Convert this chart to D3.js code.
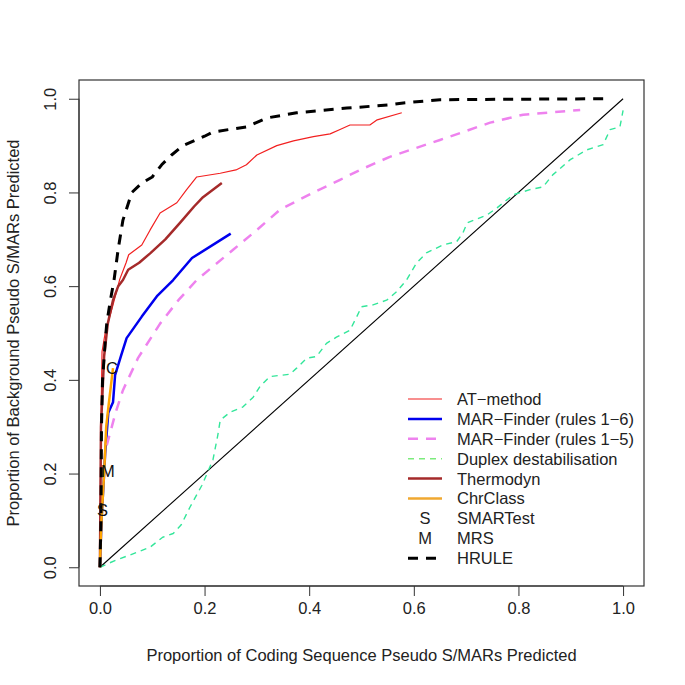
<!DOCTYPE html>
<html><head><meta charset="utf-8">
<script src="https://cdn.jsdelivr.net/npm/d3@7"></script>
<style>body{margin:0;background:#fff}svg{display:block}text{font-family:"Liberation Sans",Arial,Helvetica,sans-serif}</style>
</head><body>
<script>
// ---- data (x = proportion coding predicted, y = proportion background predicted)
const atMethod = [[0,0],[0.002,0.3],[0.004,0.46],[0.01,0.5],[0.015,0.52],[0.025,0.56],[0.032,0.59],[0.038,0.615],[0.05,0.65],[0.055,0.667],[0.08,0.688],[0.096,0.72],[0.115,0.756],[0.147,0.778],[0.165,0.805],[0.185,0.833],[0.23,0.841],[0.26,0.848],[0.28,0.859],[0.3,0.88],[0.338,0.9],[0.37,0.91],[0.408,0.919],[0.44,0.925],[0.46,0.935],[0.478,0.944],[0.516,0.944],[0.53,0.955],[0.577,0.97]];
const marFinder16 = [[0,0],[0.003,0.1],[0.008,0.2],[0.01,0.243],[0.016,0.33],[0.025,0.352],[0.029,0.41],[0.04,0.45],[0.051,0.489],[0.08,0.535],[0.11,0.58],[0.14,0.613],[0.176,0.66],[0.25,0.712]];
const marFinder15 = [[0.013,0.26],[0.03,0.33],[0.044,0.378],[0.073,0.447],[0.115,0.52],[0.15,0.57],[0.185,0.613],[0.254,0.677],[0.3,0.72],[0.344,0.763],[0.408,0.8],[0.459,0.827],[0.497,0.848],[0.554,0.876],[0.65,0.912],[0.746,0.949],[0.809,0.966],[0.918,0.976]];
const duplex = [[0,0],[0.03,0.015],[0.057,0.026],[0.096,0.043],[0.12,0.064],[0.14,0.072],[0.155,0.09],[0.172,0.128],[0.195,0.175],[0.216,0.229],[0.225,0.28],[0.23,0.314],[0.249,0.331],[0.273,0.342],[0.293,0.363],[0.306,0.386],[0.325,0.407],[0.363,0.412],[0.376,0.425],[0.395,0.446],[0.414,0.45],[0.433,0.478],[0.452,0.491],[0.478,0.506],[0.491,0.535],[0.5,0.556],[0.522,0.56],[0.548,0.57],[0.567,0.588],[0.586,0.613],[0.605,0.649],[0.624,0.671],[0.656,0.688],[0.682,0.695],[0.694,0.714],[0.702,0.735],[0.74,0.752],[0.759,0.767],[0.79,0.795],[0.822,0.806],[0.847,0.812],[0.866,0.838],[0.899,0.87],[0.931,0.891],[0.962,0.902],[0.975,0.934],[0.994,0.94],[1.0,0.975]];
const thermodyn = [[0,0],[0.002,0.3],[0.008,0.45],[0.015,0.52],[0.025,0.57],[0.035,0.6],[0.044,0.613],[0.054,0.635],[0.075,0.65],[0.096,0.67],[0.125,0.7],[0.153,0.735],[0.18,0.77],[0.197,0.79],[0.233,0.82]];
const chrClass = [[0,0],[0.003,0.1],[0.008,0.2],[0.012,0.3],[0.017,0.35],[0.025,0.425]];
const hrule = [[0,0],[0.002,0.1],[0.003,0.3],[0.005,0.4],[0.01,0.48],[0.013,0.52],[0.02,0.57],[0.027,0.613],[0.035,0.68],[0.044,0.741],[0.061,0.8],[0.08,0.82],[0.1,0.833],[0.118,0.859],[0.137,0.88],[0.159,0.9],[0.2,0.92],[0.216,0.929],[0.28,0.94],[0.319,0.959],[0.376,0.97],[0.472,0.98],[0.554,0.987],[0.58,0.991],[0.65,0.998],[0.965,1.0]];
const diagonal = [[0,0],[1,1]];
const pointMarks = [{label:"S", x:0.005, y:0.122},{label:"M", x:0.015, y:0.205},{label:"C", x:0.023, y:0.425}];
const xTicks = [0,0.2,0.4,0.6,0.8,1.0];
const yTicks = [0,0.2,0.4,0.6,0.8,1.0];
const legendLabels = ["AT\u2212method","MAR\u2212Finder (rules 1\u22126)","MAR\u2212Finder (rules 1\u22125)","Duplex destabilisation","Thermodyn","ChrClass","SMARTest","MRS","HRULE"];

// ---- styles
const series = [
  {data: atMethod, color:"#F22020", width:1.2, dash:null},
  {data: marFinder16, color:"#0000EE", width:2.5, dash:null},
  {data: marFinder15, color:"#EE82EE", width:2.5, dash:"10,8"},
  {data: duplex, color:"#33E69A", width:1.4, dash:"6,5"},
  {data: thermodyn, color:"#A52A2A", width:2.5, dash:null},
  {data: chrClass, color:"#FFA500", width:2.5, dash:null},
  {data: hrule, color:"#000000", width:3, dash:"10,8"}
];
const legendStyles = [
  {color:"#F22020", width:1.2, dash:null},
  {color:"#0000EE", width:2.5, dash:null},
  {color:"#EE82EE", width:2.5, dash:"10,8"},
  {color:"#7CEB7C", width:1.4, dash:"6,5"},
  {color:"#A52A2A", width:2.5, dash:null},
  {color:"#F0A830", width:2.5, dash:null},
  {text:"S"},{text:"M"},
  {color:"#000000", width:3, dash:"10,8"}
];

const W=685,H=685;
const box={left:79,right:644,top:80,bottom:586};
const x=d3.scaleLinear().domain([-0.04,1.04]).range([box.left,box.right]);
const y=d3.scaleLinear().domain([-0.04,1.04]).range([box.bottom,box.top]);
const svg=d3.select("body").append("svg").attr("width",W).attr("height",H);
const fs=16.5;

const line=d3.line().x(d=>x(d[0])).y(d=>y(d[1]));
const g=svg.append("g");
g.append("path").datum(diagonal).attr("d",line).attr("fill","none").attr("stroke","#000").attr("stroke-width",1.1);
series.forEach(s=>{
  g.append("path").datum(s.data).attr("d",line).attr("fill","none")
   .attr("stroke",s.color).attr("stroke-width",s.width)
   .attr("stroke-dasharray",s.dash).attr("stroke-linejoin","round");
});
g.selectAll("text.pm").data(pointMarks).enter().append("text")
  .attr("x",d=>x(d.x)).attr("y",d=>y(d.y)).attr("dy","0.36em")
  .attr("text-anchor","middle").attr("font-size",fs).attr("fill","#111").text(d=>d.label);

// box
svg.append("rect").attr("x",box.left).attr("y",box.top).attr("width",box.right-box.left).attr("height",box.bottom-box.top)
  .attr("fill","none").attr("stroke","#333").attr("stroke-width",1.2);

// axes
const xAxis=d3.axisBottom(x).tickValues(xTicks).tickFormat(d3.format(".1f")).tickSize(10).tickPadding(6);
const ax=svg.append("g").attr("transform",`translate(0,${box.bottom})`).call(xAxis);
ax.select(".domain").attr("d",`M${x(0)},0H${x(1)}`).attr("stroke","#333");
ax.selectAll("text").attr("font-size",fs).attr("font-family","Liberation Sans, Arial").attr("fill","#222");
ax.selectAll("line").attr("stroke","#333");

const yAxis=d3.axisLeft(y).tickValues(yTicks).tickFormat(d3.format(".1f")).tickSize(10).tickPadding(6);
const ay=svg.append("g").attr("transform",`translate(${box.left},0)`).call(yAxis);
ay.select(".domain").attr("d",`M0,${y(0)}V${y(1)}`).attr("stroke","#333");
ay.selectAll("line").attr("stroke","#333");
ay.selectAll("text").attr("font-size",fs).attr("font-family","Liberation Sans, Arial").attr("fill","#222")
  .attr("x",0).attr("y",0).attr("dy","0").attr("text-anchor","middle")
  .attr("transform","translate(-23,0) rotate(-90)");

svg.append("text").attr("x",(x(0)+x(1))/2).attr("y",661).attr("text-anchor","middle").attr("font-size",fs).attr("fill","#222")
  .text("Proportion of Coding Sequence Pseudo S/MARs Predicted");
svg.append("text").attr("transform",`translate(19,${(box.top+box.bottom)/2}) rotate(-90)`).attr("text-anchor","middle").attr("font-size",fs).attr("fill","#222")
  .text("Proportion of Background Pseudo S/MARs Predicted");

// legend
const legY0=399, legDy=19.9, legX1=408, legX2=442, legTx=457;
const lg=svg.append("g");
legendLabels.forEach((lab,i)=>{
  const yy=legY0+i*legDy, st=legendStyles[i];
  if(st.text){
    lg.append("text").attr("x",(legX1+legX2)/2).attr("y",yy).attr("dy","0.36em").attr("text-anchor","middle").attr("font-size",fs).attr("fill","#222").text(st.text);
  } else {
    lg.append("line").attr("x1",legX1).attr("x2",legX2).attr("y1",yy).attr("y2",yy)
      .attr("stroke",st.color).attr("stroke-width",st.width).attr("stroke-dasharray",st.dash);
  }
  lg.append("text").attr("x",legTx).attr("y",yy).attr("dy","0.36em").attr("font-size",fs).attr("fill","#222").text(lab);
});
</script>
</body></html>
